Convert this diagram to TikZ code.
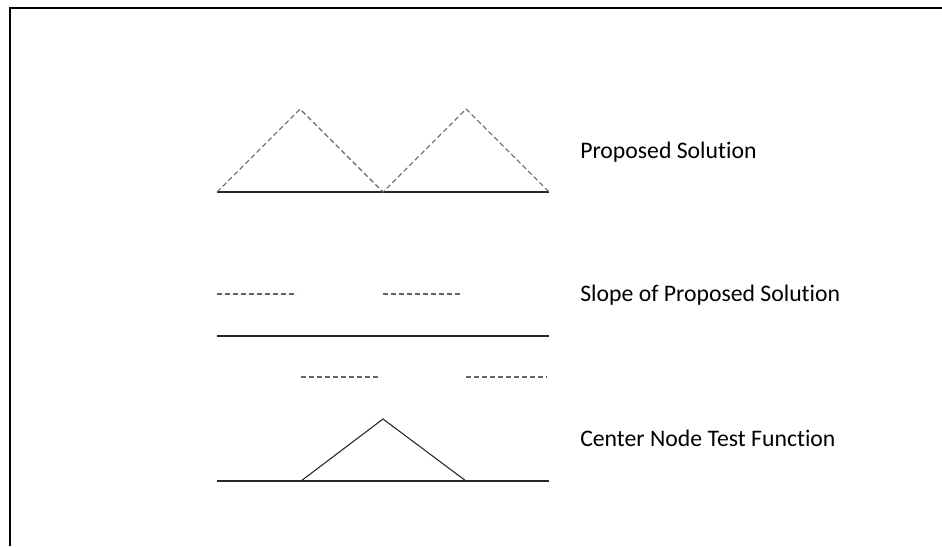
\documentclass[tikz,border=0pt]{standalone}
\usepackage{fontspec}
\setmainfont{Carlito}[Ligatures=NoCommon]
\usepackage{tikz}

\tikzset{
  dashline/.style={dash pattern=on 3.75pt off 2.25pt, line width=0.8pt, black!60},
  solidline/.style={line width=0.8pt, black!85},
  label/.style={anchor=west, inner sep=0pt, font=\fontsize{17.8}{20}\selectfont}
}

\begin{document}
\begin{tikzpicture}[x=0.75pt, y=-0.75pt]
\useasboundingbox (0,0) rectangle (942,546);

% frame
\draw[line width=2pt] (10,546) -- (10,8) -- (942,8);


% plot the proposed solution
\coordinate (a0) at (217,192);
\coordinate (p1) at (300,109);
\coordinate (a1) at (383,192);
\coordinate (p2) at (466,109);
\coordinate (a2) at (549,192);
\draw[solidline] (a0) -- (a2);
\draw[dashline] (a0) -- (p1) -- (a1) -- (p2) -- (a2);
\node[label] (sol) at (580,152) {Proposed Solution};



% plot the slope
\coordinate (s0) at (217,294);
\coordinate (s1) at (297,294);
\coordinate (s2) at (383,294);
\coordinate (s3) at (463,294);
\draw[dashline] (s0) -- (s1);
\draw[dashline] (s2) -- (s3);

\coordinate (z0) at (217,336);
\coordinate (z1) at (549,336);
\draw[solidline] (z0) -- (z1);

\coordinate (t0) at (301,377);
\coordinate (t1) at (381,377);
\coordinate (t2) at (466,377);
\coordinate (t3) at (547,377);
\draw[dashline] (t0) -- (t1);
\draw[dashline] (t2) -- (t3);
\node[label] (slope) at (580,295) {Slope of Proposed Solution};


% plot the test function
\coordinate (b0) at (217,481);
\coordinate (b1) at (301,481);
\coordinate (bt) at (383,419);
\coordinate (b2) at (466,481);
\coordinate (b3) at (549,481);
\draw[solidline] (b0) -- (b3);
\draw[solidline] (b1) -- (bt) -- (b2);
\node[label] (test) at (580,438) {Center Node Test Function};

\end{tikzpicture}
\end{document}
